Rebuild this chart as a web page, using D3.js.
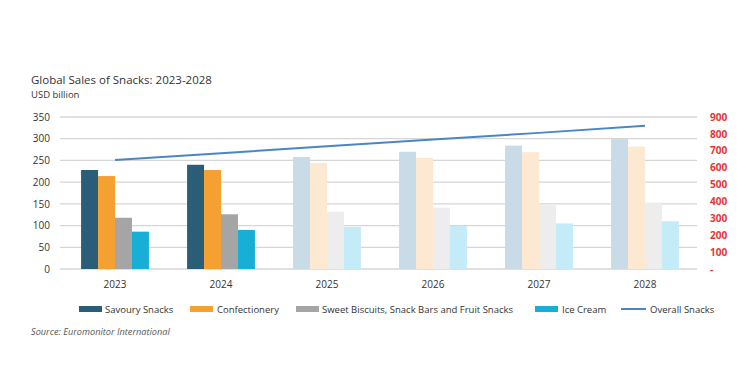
<!DOCTYPE html>
<html><head><meta charset="utf-8">
<script src="https://cdn.jsdelivr.net/npm/d3@7"></script>
<style>
body{margin:0;background:#fff;}
text{font-family:"Open Sans",sans-serif;}
</style></head>
<body><svg id="c" width="750" height="378"></svg>
<script>
const years = ["2023","2024","2025","2026","2027","2028"];
const seriesNames = ["Savoury Snacks","Confectionery","Sweet Biscuits, Snack Bars and Fruit Snacks","Ice Cream"];
const savoury = [228, 240, 258, 270, 284, 299];
const confectionery = [214, 228, 244, 256, 269, 282];
const sweetBiscuits = [118, 126, 132, 141, 147, 153];
const iceCream = [86, 90, 97, 99, 105, 110];
const overall = [645, 685, 727, 767, 806, 848];
const leftTicks = [0,50,100,150,200,250,300,350];
const rightTicks = [0,100,200,300,400,500,600,700,800,900];
const forecastFrom = "2025";

const solid = ["#2c5d78","#f5a132","#a5a5a5","#17afd6"];
const faded = ["#c8dbe7","#fde8d2","#ededed","#c4ecf8"];
const lineColor = "#4a86c4";

const svg = d3.select("#c");
const pL = 60, pR = 697, pT = 117, pB = 269;

const x = d3.scaleBand().domain(years).range([62,698]).paddingInner(0.36).paddingOuter(0.18);
const xs = d3.scaleBand().domain(d3.range(4)).range([0, x.bandwidth()]);
const y = d3.scaleLinear().domain([0,350]).range([pB, pT]);
const y2 = d3.scaleLinear().domain([0,900]).range([pB, pT]);

// title
svg.append("text").attr("x",31).attr("y",84).attr("font-size",11.5).attr("fill","#333").text("Global Sales of Snacks: 2023-2028");
svg.append("text").attr("x",31).attr("y",98).attr("font-size",9.5).attr("fill","#333").text("USD billion");

// gridlines
svg.append("g").selectAll("line").data(leftTicks).join("line")
  .attr("x1",pL).attr("x2",pR).attr("y1",d=>y(d)).attr("y2",d=>y(d))
  .attr("stroke","#d6d6d6").attr("stroke-width",1.3);

// left axis
const la = svg.append("g").attr("transform",`translate(${pL-10},0)`)
  .call(d3.axisLeft(y).tickValues(leftTicks).tickSize(0).tickPadding(0));
la.select(".domain").remove();
la.selectAll("text").attr("font-size",10).attr("fill","#333").attr("font-family","Open Sans");

// right axis
const ra = svg.append("g").attr("transform",`translate(${pR+13},0)`)
  .call(d3.axisRight(y2).tickValues(rightTicks).tickSize(0).tickPadding(0).tickFormat(d=>d===0?"-":d));
ra.select(".domain").remove();
ra.selectAll("text").attr("font-size",10).attr("fill","#e5343a").attr("font-weight","bold").attr("font-family","Open Sans");

// bars
const data = [savoury, confectionery, sweetBiscuits, iceCream];
const isFc = yr => +yr >= +forecastFrom;
years.forEach((yr,i)=>{
  const g = svg.append("g").attr("transform",`translate(${x(yr)},0)`);
  g.selectAll("rect").data(data.map((s,k)=>({k,v:s[i]}))).join("rect")
    .attr("x",d=>xs(d.k)).attr("width",xs.bandwidth())
    .attr("y",d=>y(d.v)).attr("height",d=>pB-y(d.v))
    .attr("fill",d=>isFc(yr)?faded[d.k]:solid[d.k]);
});

// x labels
svg.append("g").selectAll("text").data(years).join("text")
  .attr("x",d=>x(d)+x.bandwidth()/2).attr("y",288).attr("text-anchor","middle")
  .attr("font-size",10).attr("fill","#333").text(d=>d);

// line
const line = d3.line().x((d,i)=>x(years[i])+x.bandwidth()/2).y(d=>y2(d));
svg.append("path").datum(overall).attr("d",line).attr("fill","none")
  .attr("stroke",lineColor).attr("stroke-width",2);

// legend
const leg = [
  {t:seriesNames[0],c:solid[0],x:79,tx:105},
  {t:seriesNames[1],c:solid[1],x:190,tx:217},
  {t:seriesNames[2],c:solid[2],x:296,tx:322},
  {t:seriesNames[3],c:solid[3],x:535,tx:562},
];
const ly = 309;
leg.forEach(l=>{
  svg.append("rect").attr("x",l.x).attr("y",ly-3).attr("width",23).attr("height",6).attr("fill",l.c);
  svg.append("text").attr("x",l.tx).attr("y",ly+3.5).attr("font-size",9.5).attr("fill","#333").text(l.t);
});
svg.append("line").attr("x1",621).attr("x2",646).attr("y1",ly).attr("y2",ly).attr("stroke",lineColor).attr("stroke-width",2);
svg.append("text").attr("x",650).attr("y",ly+3.5).attr("font-size",9.5).attr("fill","#333").text("Overall Snacks");

// source
svg.append("text").attr("x",31).attr("y",335).attr("font-size",9.2).attr("font-style","italic").attr("fill","#555").text("Source: Euromonitor International");
</script></body></html>
